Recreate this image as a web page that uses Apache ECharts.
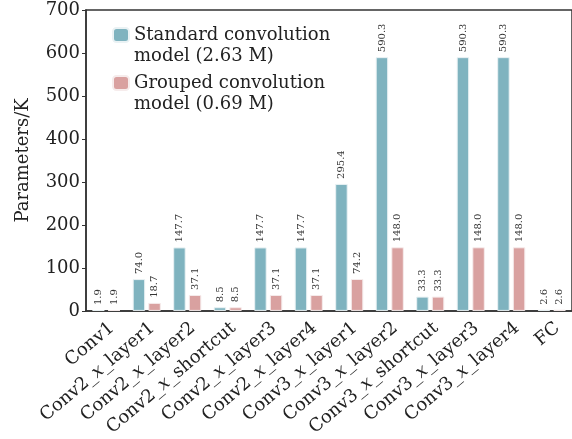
<!DOCTYPE html>
<html>
<head>
<meta charset="utf-8">
<script src="https://cdn.jsdelivr.net/npm/echarts@6/dist/echarts.min.js"></script>
<style>
  html, body { margin: 0; padding: 0; background: #fff; }
  #main { width: 572px; height: 439px; }
</style>
</head>
<body>
<div id="main"></div>
<script>
// 层名称
var categories = ['Conv1', 'Conv2_x_layer1', 'Conv2_x_layer2', 'Conv2_x_shortcut',
    'Conv2_x_layer3', 'Conv2_x_layer4', 'Conv3_x_layer1', 'Conv3_x_layer2',
    'Conv3_x_shortcut', 'Conv3_x_layer3', 'Conv3_x_layer4', 'FC'];
// 标准卷积参数量 (K)
var standardValues = [1.9, 74.0, 147.7, 8.5, 147.7, 147.7, 295.4, 590.3, 33.3, 590.3, 590.3, 2.6];
// 分组卷积参数量 (K)
var groupedValues = [1.9, 18.7, 37.1, 8.5, 37.1, 37.1, 74.2, 148.0, 33.3, 148.0, 148.0, 2.6];
var yTicks = [0, 100, 200, 300, 400, 500, 600, 700];
var seriesNames = ['Standard convolution\nmodel (2.63 M)', 'Grouped convolution\nmodel (0.69 M)'];

var FONT = 'DejaVu Serif';
var chart = echarts.init(document.getElementById('main'));

var barLabel = {
    show: true,
    position: 'top',
    rotate: 90,
    align: 'left',
    verticalAlign: 'middle',
    distance: 5,
    fontFamily: FONT,
    fontSize: 10,
    color: '#333',
    formatter: function (p) { return p.value.toFixed(1); }
};

var option = {
    animation: false,
    grid: {
        left: 86, top: 10, right: -8, bottom: 127,
        show: true, borderColor: '#333', borderWidth: 1.5
    },
    legend: {
        orient: 'vertical',
        left: 112, top: 9,
        padding: 0,
        itemWidth: 16, itemHeight: 14,
        itemGap: -8,
        data: seriesNames,
        // 空行让色块对齐第一行文字
        formatter: function (name) {
            var lines = name.split('\n');
            return '{s| }\n{t|' + lines[0] + '}\n{t|' + lines[1] + '}';
        },
        textStyle: {
            fontFamily: FONT, fontSize: 18, color: '#222',
            rich: {
                s: { fontSize: 10, lineHeight: 21 },
                t: { fontFamily: FONT, fontSize: 18, lineHeight: 21, color: '#222' }
            }
        }
    },
    xAxis: {
        type: 'category',
        data: categories,
        axisLine: { lineStyle: { color: '#333', width: 1.5 } },
        axisTick: { show: false },
        axisLabel: {
            interval: 0,
            rotate: 40,
            margin: 8,
            verticalAlign: 'top',
            color: '#222',
            formatter: function (v) {
                var parts = v.split('_x_');
                if (parts.length === 2) {
                    return '{n|' + parts[0] + '_}{i|x}{n|_' + parts[1] + '}';
                }
                return '{n|' + v + '}';
            },
            rich: {
                n: { fontFamily: FONT, fontSize: 18, color: '#222' },
                i: { fontFamily: FONT, fontSize: 18, fontStyle: 'italic', color: '#222' }
            }
        }
    },
    yAxis: {
        type: 'value',
        min: 0, max: 700, interval: 100,
        name: 'Parameters/K',
        nameLocation: 'middle',
        nameGap: 54,
        nameTextStyle: { fontFamily: FONT, fontSize: 18, color: '#222' },
        axisLine: { show: true, lineStyle: { color: '#333', width: 1.5 } },
        axisTick: { show: true, length: 4, lineStyle: { color: '#333' } },
        splitLine: { show: false },
        axisLabel: {
            fontFamily: FONT, fontSize: 18, color: '#222', margin: 6,
            formatter: function (v) { return yTicks.indexOf(v) >= 0 ? String(v) : ''; }
        }
    },
    series: [
        {
            name: seriesNames[0], type: 'bar', data: standardValues,
            barWidth: 12.5, barGap: '25%',
            itemStyle: { color: '#7fb3bf', borderColor: '#eaf2f4', borderWidth: 1 },
            label: barLabel
        },
        {
            name: seriesNames[1], type: 'bar', data: groupedValues,
            barWidth: 12.5, barGap: '25%',
            itemStyle: { color: '#d9a1a0', borderColor: '#f6ecec', borderWidth: 1 },
            label: barLabel
        }
    ]
};

chart.setOption(option);
</script>
</body>
</html>
